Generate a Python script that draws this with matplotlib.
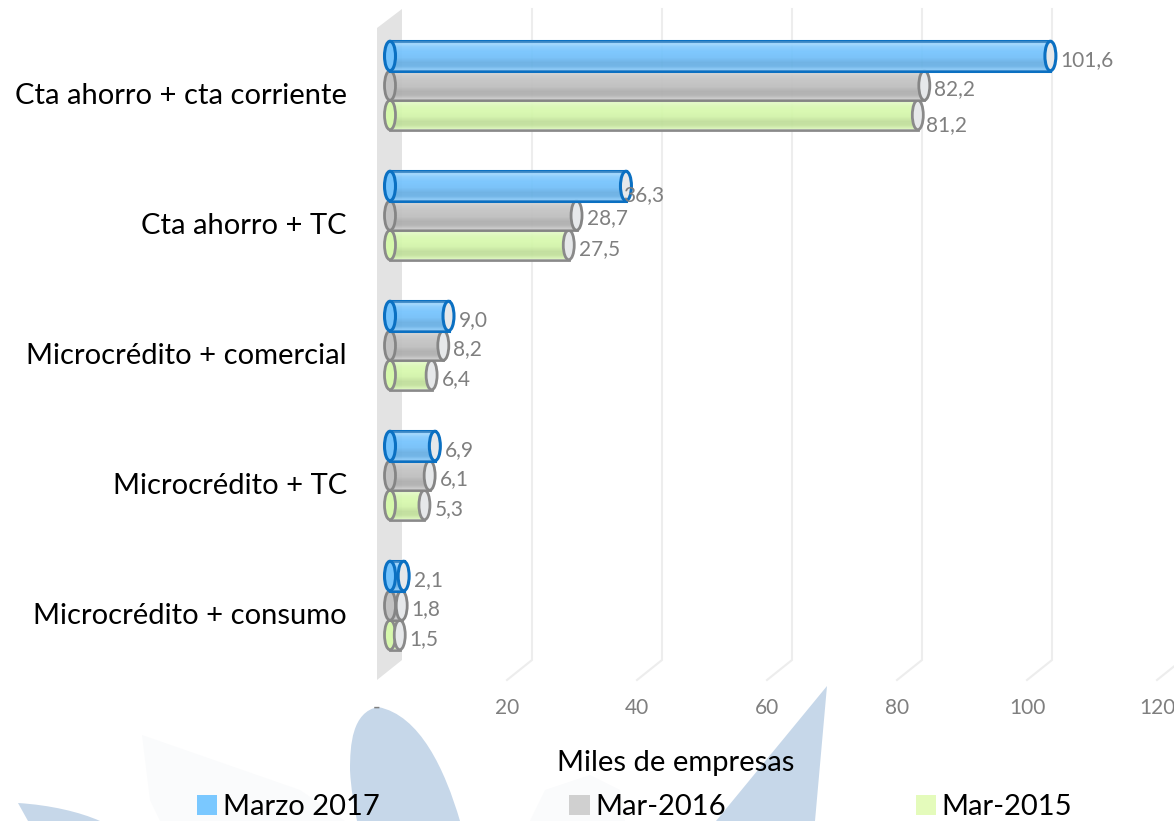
import numpy as np
import matplotlib
matplotlib.use('Agg')
import matplotlib.pyplot as plt
from matplotlib.colors import to_rgba
from matplotlib.patches import Ellipse, Patch, PathPatch
from matplotlib.path import Path
from matplotlib.transforms import Affine2D

plt.rcParams['font.family'] = ['Lato', 'DejaVu Sans']

categories = ['Cta ahorro + cta corriente', 'Cta ahorro + TC', 'Microcrédito + comercial',
              'Microcrédito + TC', 'Microcrédito + consumo']
series_names = ['Marzo 2017', 'Mar-2016', 'Mar-2015']
marzo_2017 = [101.6, 36.3, 9.0, 6.9, 2.1]
mar_2016 = [82.2, 28.7, 8.2, 6.1, 1.8]
mar_2015 = [81.2, 27.5, 6.4, 5.3, 1.5]
x_ticks = [0, 20, 40, 60, 80, 100, 120]
x_tick_labels = ['-', '20', '40', '60', '80', '100', '120']
x_title = 'Miles de empresas'

series = [marzo_2017, mar_2016, mar_2015]
face_colors = ['#74C3FD', '#C2C2C2', '#D6F8AC']
edge_colors = ['#0B70C2', '#858585', '#8A8A8A']
legend_colors = ['#7AC8FF', '#D0D0D0', '#E4FBBB']
PX_X = 6.5     # pixels per unit on x
PX_Y = 130.0   # pixels per category on y
BAR_H = 29.5 / PX_Y
CAP_W = 11 / PX_X


def ypx(p):
    # image row to y data units
    return (p - 85.5) / PX_Y


def xpx(p):
    # image column to x data units
    return (p - 390) / PX_X


fig = plt.figure(figsize=(11.74, 8.21), dpi=100, facecolor='white')
ax = fig.add_axes([0, 0, 1, 1])
ax.axis('off')

# watermark petals behind the chart, in image pixels (y down)
px = Affine2D().scale(1, -1).translate(0, 821)
C4 = Path.CURVE4
L = Path.LINETO
M = Path.MOVETO
petals = [
    ([(378, 707), (352, 712), (350, 745), (350, 770), (351, 790), (354, 805), (357, 821), (460, 821), (445, 770), (420, 715), (378, 707)],
     [M, C4, C4, C4, C4, C4, C4, L, C4, C4, C4], '#C6D7E9'),
    ([(827, 686), (716, 821), (815, 821), (827, 686)], [M, L, L, L], '#C6D7E9'),
    ([(18, 803), (28, 821), (100, 821), (80, 812), (50, 805), (18, 803)], [M, L, L, C4, C4, C4], '#C6D7E9'),
    ([(142, 735), (150, 800), (160, 821), (345, 821), (300, 790), (142, 735)], [M, L, L, L, L, L], '#FAFBFC'),
    ([(530, 821), (545, 790), (590, 775), (620, 790), (625, 821)], [M, L, L, L, L], '#FAFBFC'),
]
for verts, codes, col in petals:
    fig.add_artist(PathPatch(Path(verts, codes), facecolor=col, edgecolor='none', transform=px, zorder=-5))

# 3D wall and slanted gridlines
back = 12 / PX_X
front = -13 / PX_X
ax.fill([front, back, back, front], [ypx(28), ypx(9), ypx(660), ypx(680)],
        color='#E3E3E3', lw=0, zorder=1)
for t in x_ticks[1:]:
    ax.plot([t + back, t + back, t + front], [ypx(9), ypx(660), ypx(680)],
            color='#EDEDED', lw=1.5, zorder=1, solid_joinstyle='miter')

# cylinder shading: white highlight up top, darker band in the lower half
stops = np.array([0.0, 0.08, 0.18, 0.35, 0.55, 0.72, 0.85, 1.0])
white_a = np.array([0.20, 0.32, 0.12, 0.0, 0.0, 0.0, 0.0, 0.22])
dark_a = np.array([0.05, 0.0, 0.0, 0.0, 0.02, 0.10, 0.09, 0.0])
rows = np.linspace(0, 1, 30)
w = np.interp(rows, stops, white_a)
d = np.interp(rows, stops, dark_a)
alpha = w + d
level = np.where(alpha > 0, w / np.maximum(alpha, 1e-6), 0)
shade = np.column_stack([level, level, level, alpha])[:, None, :]

# Mar-2015 first so the newer series overlap it
z = 3
for s in [2, 1, 0]:
    offset = (s - 1) * BAR_H
    y_pos = np.arange(len(categories)) + offset
    lw = 2.2 if s == 0 else 2.0
    ax.barh(y_pos, series[s], height=BAR_H, color=to_rgba(face_colors[s], 0.93),
            edgecolor=edge_colors[s], linewidth=lw, zorder=z)
    for yy, v in zip(y_pos, series[s]):
        ax.imshow(shade, extent=[0, v, yy + BAR_H / 2, yy - BAR_H / 2], aspect='auto',
                  interpolation='bilinear', zorder=z + 0.1)
        ax.add_patch(Ellipse((0, yy), CAP_W, BAR_H, facecolor=face_colors[s],
                             edgecolor=edge_colors[s], lw=lw, zorder=z + 0.2))
        ax.add_patch(Ellipse((v, yy), CAP_W, BAR_H, facecolor='#E6E8EA',
                             edgecolor=edge_colors[s], lw=lw, zorder=z + 0.2))
    z += 1
ax.set_xlim(xpx(0), xpx(1174))
ax.set_ylim(ypx(821), ypx(0))

# data labels; a few were nudged by hand in the original
nudges = {(2, 0): (-2, 6), (0, 1): (-13, 5), (1, 1): (0, -1)}
for s in range(3):
    for c, v in enumerate(series[s]):
        dx, dy = nudges.get((s, c), (0, 0))
        ax.annotate(f'{v:.1f}'.replace('.', ','), xy=(v, c + (s - 1) * BAR_H),
                    xytext=((10 + dx) * 0.72, -(4 + dy) * 0.72), textcoords='offset points',
                    ha='left', va='center', fontsize=15, color='#7F7F7F', zorder=10)

for c, name in enumerate(categories):
    ax.text(xpx(347), c + 10 / PX_Y, name, ha='right', va='center', fontsize=21, color='black')

for t, lab in zip(x_ticks, x_tick_labels):
    ax.text(t + front, ypx(708), lab, ha='center', va='center', fontsize=15, color='#7F7F7F')

ax.text(xpx(676), ypx(763), x_title, ha='center', va='center', fontsize=21, color='black')

handles = [Patch(facecolor=legend_colors[i], edgecolor='none', label=series_names[i]) for i in range(3)]
fig.legend(handles=handles, loc='center', bbox_to_anchor=(634.5 / 1174, 1 - 807 / 821), ncol=3,
           frameon=False, fontsize=21, handlelength=0.7, handleheight=0.7, handletextpad=0.2,
           columnspacing=6.5, borderpad=0, borderaxespad=0)

fig.savefig('out.png', dpi=100)
